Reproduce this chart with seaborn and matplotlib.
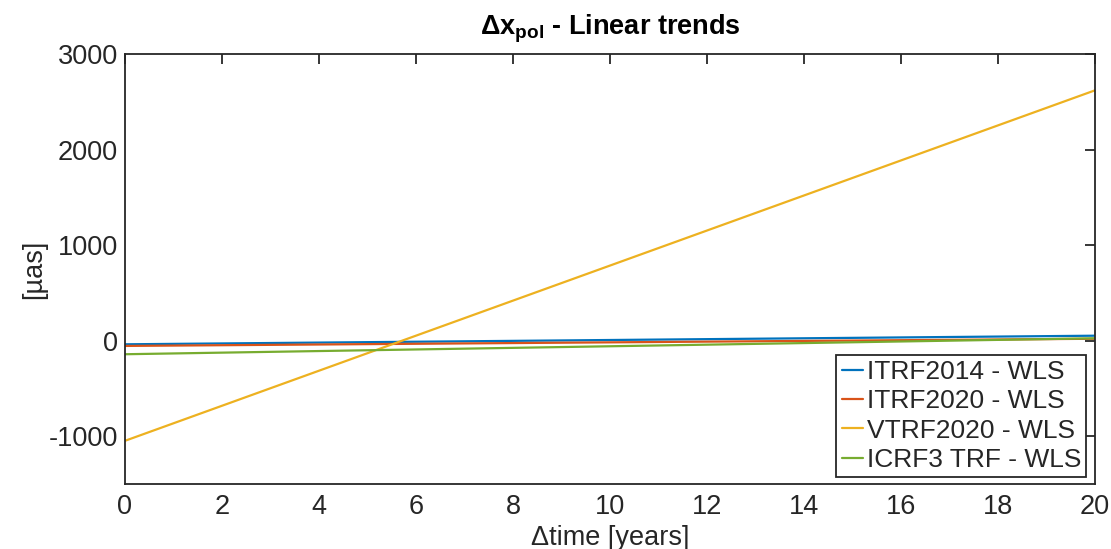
import matplotlib
matplotlib.use("Agg")
import matplotlib.pyplot as plt
import seaborn as sns
import pandas as pd

series = ["ITRF2014 - WLS", "ITRF2020 - WLS", "VTRF2020 - WLS", "ICRF3 TRF - WLS"]
times = [0, 20]
start_vals = [-38, -55, -1048, -142]
end_vals = [52, 20, 2620, 25]
colors = ["#0072BD", "#D95319", "#EDB120", "#77AC30"]
xticks = list(range(0, 21, 2))
yticks = [-1000, 0, 1000, 2000, 3000]

rows = []
for name, a, b in zip(series, start_vals, end_vals):
    rows.append({"t": times[0], "v": a, "s": name})
    rows.append({"t": times[1], "v": b, "s": name})
df = pd.DataFrame(rows)

sns.set_theme(style="white")
plt.rcParams["font.family"] = ["Liberation Sans", "DejaVu Sans"]
plt.rcParams["mathtext.fontset"] = "custom"
plt.rcParams["mathtext.rm"] = "Liberation Sans"
plt.rcParams["mathtext.it"] = "Liberation Sans"
plt.rcParams["mathtext.bf"] = "Liberation Sans:bold"
plt.rcParams["axes.unicode_minus"] = False

fig = plt.figure(figsize=(11.11, 5.49), dpi=100)
ax = fig.add_axes([0.1125, 0.1184, 0.8731, 0.7832])
sns.lineplot(data=df, x="t", y="v", hue="s", palette=colors, hue_order=series,
             ax=ax, linewidth=1.6)

ax.set_xlim(0, 20)
ax.set_ylim(-1500, 3000)
ax.set_xticks(xticks)
ax.set_yticks(yticks)
tc = "#262626"
ax.tick_params(direction="in", length=7, width=1.3, colors=tc, labelsize=19.5,
               top=True, right=True, labelcolor=tc, pad=5)
ax.tick_params(axis="x", pad=7)
for sp in ax.spines.values():
    sp.set_color(tc)
    sp.set_linewidth(1.3)
    sp.set_visible(True)

ax.set_xlabel("Δtime [years]", fontsize=19.5, color=tc, labelpad=4)
ax.set_ylabel("[µas]", fontsize=19.5, color=tc, labelpad=1)
ax.set_title(r"$\mathbf{Δx_{pol}}$ - Linear trends", fontsize=19.5, fontweight="bold",
             color="black", pad=14)

leg = ax.legend(loc="lower right", bbox_to_anchor=(0.991, 0.016), fontsize=19,
                frameon=True, fancybox=False, edgecolor=tc, framealpha=1,
                handlelength=0.8, handletextpad=0.15, borderpad=0.2,
                labelspacing=0.2, borderaxespad=0)
leg.get_frame().set_linewidth(1.3)
leg.set_title(None)

fig.savefig("out.png", dpi=100)
